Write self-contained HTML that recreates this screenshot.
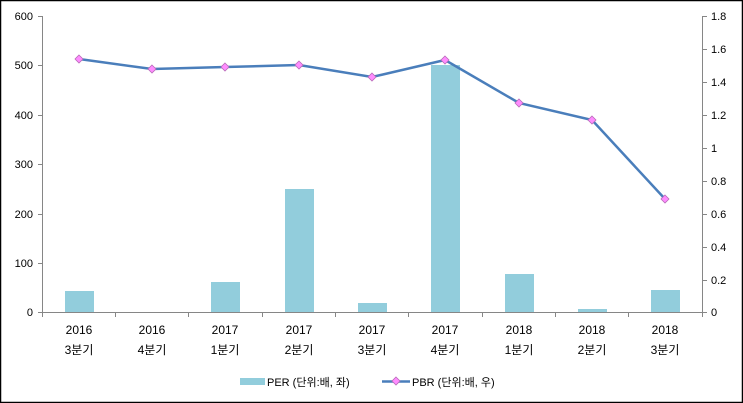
<!DOCTYPE html>
<html><head><meta charset="utf-8"><style>
html,body{margin:0;padding:0;background:#fff}
svg{display:block;font-family:"Liberation Sans","Noto Sans CJK KR",sans-serif}
</style></head><body>
<svg width="743" height="403" viewBox="0 0 743 403" xmlns="http://www.w3.org/2000/svg">
<rect x="0.5" y="0.5" width="742" height="402" fill="#fff" stroke="#000" stroke-width="1.5"/>
<g stroke="#868686" stroke-width="1" fill="none">
<line x1="42.5" y1="16" x2="42.5" y2="313"/>
<line x1="702.5" y1="16" x2="702.5" y2="313"/>
<line x1="38" y1="312.5" x2="707" y2="312.5"/>
<line x1="38" y1="16.5" x2="42" y2="16.5"/><line x1="38" y1="65.5" x2="42" y2="65.5"/><line x1="38" y1="115.5" x2="42" y2="115.5"/><line x1="38" y1="164.5" x2="42" y2="164.5"/><line x1="38" y1="214.5" x2="42" y2="214.5"/><line x1="38" y1="263.5" x2="42" y2="263.5"/>
<line x1="703" y1="16.5" x2="707" y2="16.5"/><line x1="703" y1="49.5" x2="707" y2="49.5"/><line x1="703" y1="82.5" x2="707" y2="82.5"/><line x1="703" y1="115.5" x2="707" y2="115.5"/><line x1="703" y1="148.5" x2="707" y2="148.5"/><line x1="703" y1="181.5" x2="707" y2="181.5"/><line x1="703" y1="214.5" x2="707" y2="214.5"/><line x1="703" y1="247.5" x2="707" y2="247.5"/><line x1="703" y1="280.5" x2="707" y2="280.5"/>
<line x1="115.5" y1="312" x2="115.5" y2="317"/><line x1="188.5" y1="312" x2="188.5" y2="317"/><line x1="262.5" y1="312" x2="262.5" y2="317"/><line x1="335.5" y1="312" x2="335.5" y2="317"/><line x1="408.5" y1="312" x2="408.5" y2="317"/><line x1="482.5" y1="312" x2="482.5" y2="317"/><line x1="555.5" y1="312" x2="555.5" y2="317"/><line x1="628.5" y1="312" x2="628.5" y2="317"/><line x1="42.5" y1="312" x2="42.5" y2="317"/><line x1="702.5" y1="312" x2="702.5" y2="317"/>
</g>
<g font-size="11" fill="#000" text-anchor="end">
<text x="33" y="20">600</text><text x="33" y="69">500</text><text x="33" y="119">400</text><text x="33" y="168">300</text><text x="33" y="218">200</text><text x="33" y="267">100</text><text x="33" y="316">0</text>
</g>
<g font-size="11" fill="#000" text-anchor="start">
<text x="711" y="20">1.8</text><text x="711" y="53">1.6</text><text x="711" y="86">1.4</text><text x="711" y="119">1.2</text><text x="711" y="152">1</text><text x="711" y="185">0.8</text><text x="711" y="218">0.6</text><text x="711" y="251">0.4</text><text x="711" y="284">0.2</text><text x="711" y="316">0</text>
</g>
<g fill="#92CDDC">
<rect x="65" y="291" width="29" height="21"/>
<rect x="211" y="282" width="29" height="30"/>
<rect x="285" y="189" width="29" height="123"/>
<rect x="358" y="303" width="29" height="9"/>
<rect x="431" y="65" width="29" height="247"/>
<rect x="505" y="274" width="29" height="38"/>
<rect x="578" y="309" width="29" height="3"/>
<rect x="651" y="290" width="29" height="22"/>
</g>
<polyline fill="none" stroke="#4A7EBB" stroke-width="2.5" points="79,59 152,69 225,67 299,65 372,77 445,60 519,103 592,120 665,199"/>
<g fill="#FF8CFF" stroke="#B86BB8" stroke-width="0.8">
<path d="M79,55 l4,4 l-4,4 l-4,-4z"/><path d="M152,65 l4,4 l-4,4 l-4,-4z"/><path d="M225,63 l4,4 l-4,4 l-4,-4z"/><path d="M299,61 l4,4 l-4,4 l-4,-4z"/><path d="M372,73 l4,4 l-4,4 l-4,-4z"/><path d="M445,56 l4,4 l-4,4 l-4,-4z"/><path d="M519,99 l4,4 l-4,4 l-4,-4z"/><path d="M592,116 l4,4 l-4,4 l-4,-4z"/><path d="M665,195 l4,4 l-4,4 l-4,-4z"/>
</g>
<g font-size="12" fill="#000" text-anchor="middle">
<text x="79" y="334">2016</text><text x="79" y="354">3분기</text>
<text x="152" y="334">2016</text><text x="152" y="354">4분기</text>
<text x="225" y="334">2017</text><text x="225" y="354">1분기</text>
<text x="299" y="334">2017</text><text x="299" y="354">2분기</text>
<text x="372" y="334">2017</text><text x="372" y="354">3분기</text>
<text x="445" y="334">2017</text><text x="445" y="354">4분기</text>
<text x="519" y="334">2018</text><text x="519" y="354">1분기</text>
<text x="592" y="334">2018</text><text x="592" y="354">2분기</text>
<text x="665" y="334">2018</text><text x="665" y="354">3분기</text>
</g>
<rect x="240" y="378" width="25" height="7" fill="#92CDDC"/>
<text x="267" y="386" font-size="11" fill="#000">PER (단위:배, 좌)</text>
<line x1="382" y1="381.5" x2="410" y2="381.5" stroke="#4A7EBB" stroke-width="2.5"/>
<path d="M396,377 l4,4 l-4,4 l-4,-4z" fill="#FF8CFF" stroke="#B86BB8" stroke-width="0.8"/>
<text x="412" y="386" font-size="11" fill="#000">PBR (단위:배, 우)</text>
</svg>
</body></html>
